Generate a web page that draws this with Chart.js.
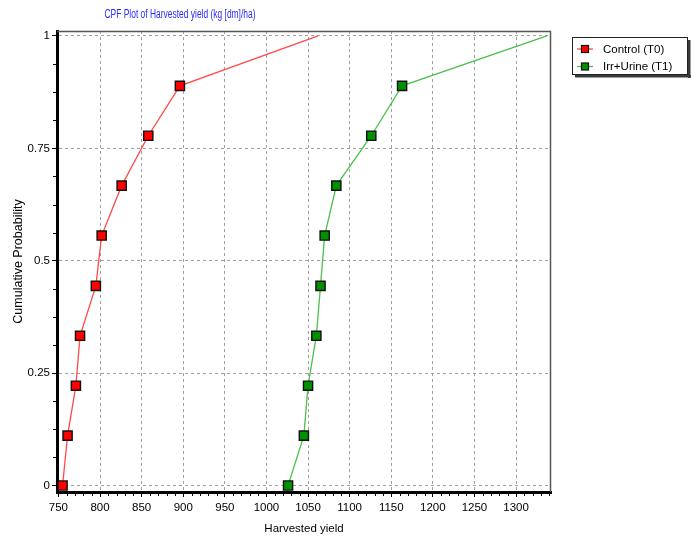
<!DOCTYPE html>
<html>
<head>
<meta charset="utf-8">
<script src="https://cdn.jsdelivr.net/npm/chart.js@4/dist/chart.umd.min.js"></script>
<style>
  html, body { margin: 0; padding: 0; background: #ffffff; }
  #wrap { width: 691px; height: 537px; position: relative; }
  canvas { display: block; }
</style>
</head>
<body>
<div id="wrap"><canvas id="cpf" width="691" height="537"></canvas></div>
<script>
// Cumulative probability levels shared by both treatments
const cumProb = [0, 0.111, 0.222, 0.333, 0.444, 0.556, 0.667, 0.778, 0.889, 1];

// Harvested yield (kg dm/ha) per treatment, sorted ascending
const controlYield  = [755, 761, 771, 776, 795, 802, 826, 858, 896, 1062];
const irrUrineYield = [1026, 1045, 1050, 1060, 1065, 1070, 1084, 1126, 1163, 1337];

const seriesNames = ['Control (T0)', 'Irr+Urine (T1)'];
const chartTitle = 'CPF Plot of Harvested yield (kg [dm]/ha)';
const xAxisTitle = 'Harvested yield';
const yAxisTitle = 'Cumulative Probability';

// Axis tick labels
const xTickLabels = [750, 800, 850, 900, 950, 1000, 1050, 1100, 1150, 1200, 1250, 1300];
const yTickLabels = [0, 0.25, 0.5, 0.75, 1];
const xMinorStep = 10;
const yMinorStep = 0.0625;

const FONT = '"Liberation Sans", Arial, sans-serif';

function toPoints(xs, ys) {
  return xs.map((x, i) => ({ x: x, y: ys[i] }));
}

function seriesDataset(label, xs, lineColor, markerColor) {
  const last = xs.length - 1;
  return {
    label: label,
    data: toPoints(xs, cumProb),
    borderColor: lineColor,
    borderWidth: 1.3,
    backgroundColor: markerColor,
    pointStyle: 'rect',
    pointRadius: (ctx) => (ctx.dataIndex === last ? 0 : 6.5),
    pointBorderColor: '#111111',
    pointBorderWidth: 1.4,
    pointBackgroundColor: markerColor,
    tension: 0,
    fill: false
  };
}

// Title, plot frame, minor ticks and the boxed legend
const decorations = {
  id: 'decorations',
  afterDraw(chart) {
    const ctx = chart.ctx;
    const area = chart.chartArea;
    const xs = chart.scales.x;
    const ys = chart.scales.y;
    ctx.save();

    // top and right edges of the plot frame
    ctx.strokeStyle = '#555555';
    ctx.lineWidth = 1.5;
    ctx.beginPath();
    ctx.moveTo(area.left, area.top + 0.5);
    ctx.lineTo(area.right - 0.5, area.top + 0.5);
    ctx.lineTo(area.right - 0.5, area.bottom);
    ctx.stroke();

    // minor ticks below the x axis
    ctx.strokeStyle = '#000000';
    ctx.lineWidth = 1;
    ctx.beginPath();
    for (let v = xTickLabels[0]; v <= xs.max; v += xMinorStep) {
      if (xTickLabels.includes(v)) continue;
      const px = Math.round(xs.getPixelForValue(v)) + 0.5;
      ctx.moveTo(px, area.bottom + 1);
      ctx.lineTo(px, area.bottom + 4);
    }
    // minor ticks left of the y axis
    for (let v = 0; v <= ys.max; v += yMinorStep) {
      if (yTickLabels.some(t => Math.abs(t - v) < 1e-9)) continue;
      const py = Math.round(ys.getPixelForValue(v)) + 0.5;
      ctx.moveTo(area.left - 1, py);
      ctx.lineTo(area.left - 4, py);
    }
    ctx.stroke();

    // chart title
    ctx.fillStyle = '#2a2aff';
    ctx.font = '12px ' + FONT;
    ctx.textAlign = 'center';
    ctx.textBaseline = 'middle';
    ctx.fillText(chartTitle, 180, 15, 151);

    // legend box with drop shadow
    const bx = 572, by = 37, bw = 116, bh = 38;
    ctx.fillStyle = '#3a3a3a';
    ctx.fillRect(bx + 3, by + bh, bw, 2.5);
    ctx.fillRect(bx + bw, by + 3, 2.5, bh);
    ctx.fillStyle = '#ffffff';
    ctx.fillRect(bx, by, bw, bh);
    ctx.strokeStyle = '#222222';
    ctx.lineWidth = 1;
    ctx.strokeRect(bx + 0.5, by + 0.5, bw - 1, bh - 1);

    chart.data.datasets.forEach((ds, i) => {
      const ly = by + 12 + i * 17.5;
      ctx.strokeStyle = ds.borderColor;
      ctx.lineWidth = 1.3;
      ctx.beginPath();
      ctx.moveTo(bx + 5, ly);
      ctx.lineTo(bx + 21, ly);
      ctx.stroke();
      ctx.fillStyle = ds.backgroundColor;
      ctx.fillRect(bx + 9.5, ly - 3.5, 7, 7);
      ctx.strokeStyle = '#111111';
      ctx.lineWidth = 1.2;
      ctx.strokeRect(bx + 9.5, ly - 3.5, 7, 7);
      ctx.fillStyle = '#000000';
      ctx.textAlign = 'left';
      ctx.textBaseline = 'middle';
      ctx.font = '11.5px ' + FONT;
      ctx.fillText(ds.label, bx + 31, ly + 0.5);
    });

    ctx.restore();
  }
};

new Chart(document.getElementById('cpf'), {
  type: 'line',
  data: {
    datasets: [
      seriesDataset(seriesNames[0], controlYield, '#ff4a4a', '#ff0000'),
      seriesDataset(seriesNames[1], irrUrineYield, '#4cc04c', '#009000')
    ]
  },
  options: {
    responsive: false,
    devicePixelRatio: 1,
    animation: false,
    layout: { padding: { top: 31, right: 140, bottom: 0, left: 0 } },
    plugins: {
      legend: { display: false },
      title: { display: false },
      tooltip: { enabled: false }
    },
    scales: {
      x: {
        type: 'linear',
        position: 'bottom',
        min: 748.3,
        max: 1342,
        afterBuildTicks: (scale) => { scale.ticks = xTickLabels.map(v => ({ value: v })); },
        afterFit: (scale) => { scale.height = 45; },
        ticks: {
          color: '#000000',
          font: { family: FONT, size: 11.5 },
          padding: 4,
          maxRotation: 0,
          autoSkip: false,
          callback: (v) => String(v)
        },
        grid: {
          color: (c) => (c.tick && c.tick.value === xTickLabels[0] ? 'rgba(0,0,0,0)' : '#a0a0a0'),
          lineWidth: 1,
          drawTicks: true,
          tickLength: 5,
          tickColor: '#000000',
          tickBorderDash: []
        },
        border: { display: true, color: '#000000', width: 3, dash: [3, 3] },
        title: {
          display: true,
          text: xAxisTitle,
          color: '#000000',
          font: { family: FONT, size: 11.5 },
          padding: { top: 0, bottom: 1 }
        }
      },
      y: {
        type: 'linear',
        position: 'left',
        min: -0.0145,
        max: 1.011,
        afterBuildTicks: (scale) => { scale.ticks = yTickLabels.map(v => ({ value: v })); },
        afterFit: (scale) => { scale.width = 57; },
        ticks: {
          color: '#000000',
          font: { family: FONT, size: 11.5 },
          padding: 2,
          callback: (v) => String(v)
        },
        grid: {
          color: '#a0a0a0',
          lineWidth: 1,
          drawTicks: true,
          tickLength: 5,
          tickColor: '#000000',
          tickBorderDash: []
        },
        border: { display: true, color: '#000000', width: 3, dash: [3, 3] },
        title: {
          display: true,
          text: yAxisTitle,
          color: '#000000',
          font: { family: FONT, size: 12.5 },
          padding: { top: 11, bottom: 0 }
        }
      }
    }
  },
  plugins: [decorations]
});
</script>
</body>
</html>
